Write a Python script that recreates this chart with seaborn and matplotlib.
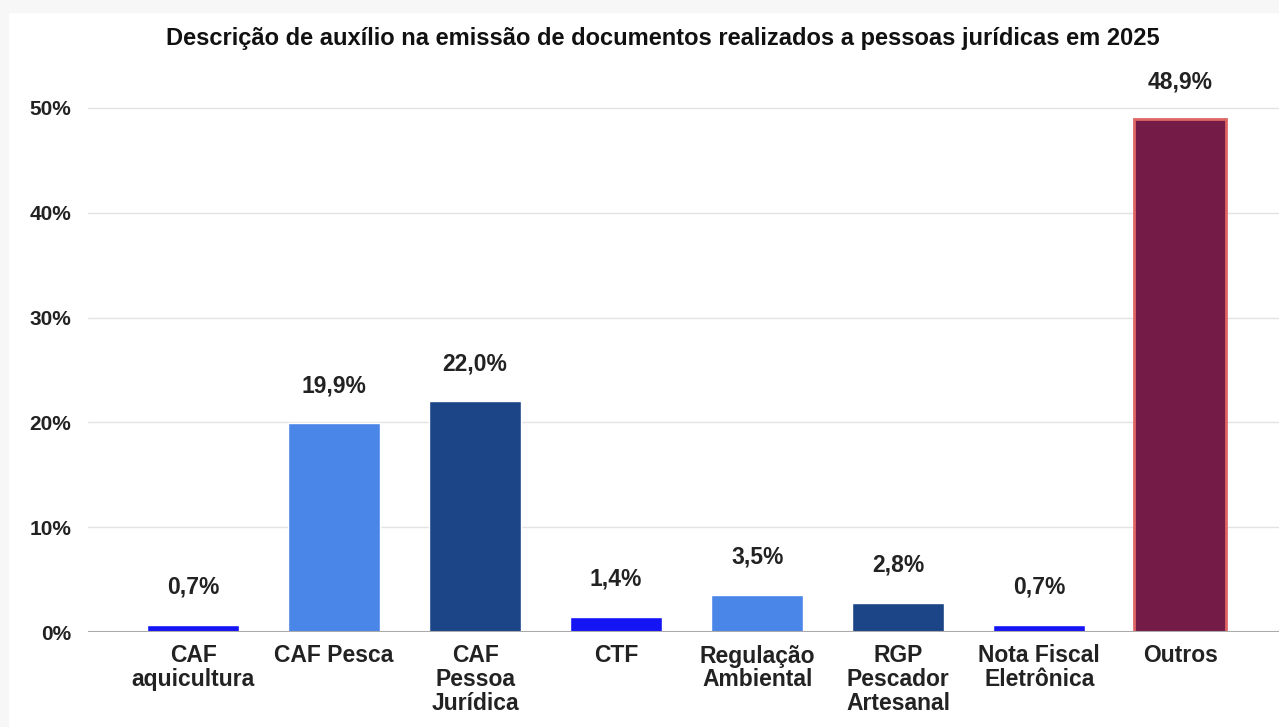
import matplotlib
matplotlib.use("Agg")
import matplotlib.pyplot as plt
import matplotlib.patches as mpatches
from matplotlib.ticker import PercentFormatter
import seaborn as sns
import pandas as pd

# -------------------------------
# DATA
# -------------------------------
categories = ["CAF\naquicultura", "CAF Pesca", "CAF\nPessoa\nJurídica", "CTF",
              "Regulação\nAmbiental", "RGP\nPescador\nArtesanal",
              "Nota Fiscal\nEletrônica", "Outros"]
values = [0.7, 19.9, 22.0, 1.4, 3.5, 2.8, 0.7, 48.9]
bar_colors = ["#1414f5", "#4a86e8", "#1c4587", "#1414f5",
              "#4a86e8", "#1c4587", "#1414f5", "#741b47"]
y_ticks = [0, 10, 20, 30, 40, 50]
title = "Descrição de auxílio na emissão de documentos realizados a pessoas jurídicas em 2025"

df = pd.DataFrame({"categoria": categories, "valor": values})

# -------------------------------
# PLOT
# -------------------------------
sns.set_theme(style="white")
plt.rcParams["font.family"] = ["Liberation Sans", "DejaVu Sans"]
plt.rcParams["font.weight"] = "bold"

fig = plt.figure(figsize=(12.79, 7.27), dpi=100, facecolor="white")
# light grey frame at top / left like the screenshot
fig.patches.append(mpatches.Rectangle((0, 1 - 12 / 727), 1, 12 / 727, transform=fig.transFigure,
                                      color="#f7f7f7", zorder=0))
fig.patches.append(mpatches.Rectangle((0, 0), 8 / 1279, 1, transform=fig.transFigure,
                                      color="#f7f7f7", zorder=0))

ax = fig.add_axes([88 / 1279, 95 / 727, 1 - 88 / 1279, 545 / 727])
ax.set_facecolor("none")

sns.barplot(data=df, x="categoria", y="valor", hue="categoria", palette=bar_colors,
            width=0.65, saturation=1, legend=False, ax=ax, zorder=3)

# red edge on "Outros"
outros = ax.patches[-1]
outros.set_edgecolor("#e06666")
outros.set_linewidth(2)

for container in ax.containers:
    ax.bar_label(container, labels=[f"{v:.1f}".replace(".", ",") + "%" for v in container.datavalues],
                 padding=19, fontsize=16.5, fontweight="bold", color="#222222")

ax.set_ylim(0, 52)
ax.set_xlim(-0.745, 7.7)
ax.set_yticks(y_ticks)
ax.yaxis.set_major_formatter(PercentFormatter(decimals=0))
ax.grid(axis="y", color="#e3e3e3", linewidth=1, zorder=0)
ax.axhline(0, color="#aaaaaa", linewidth=1.5, zorder=4)
for s in ax.spines.values():
    s.set_visible(False)

ax.tick_params(axis="y", length=0, pad=12, labelsize=15, labelcolor="#222222")
ax.tick_params(axis="x", length=0, pad=9, labelsize=16.5, labelcolor="#222222")
for lbl in ax.get_xticklabels():
    lbl.set_linespacing(1.05)
    lbl.set_fontweight("bold")
for lbl in ax.get_yticklabels():
    lbl.set_fontweight("bold")
ax.set_xlabel("")
ax.set_ylabel("")

fig.text(0.518, 1 - 38 / 727, title, ha="center", va="center",
         fontsize=17, fontweight="bold", color="#111111")

fig.savefig("out.png", dpi=100, facecolor="white")
